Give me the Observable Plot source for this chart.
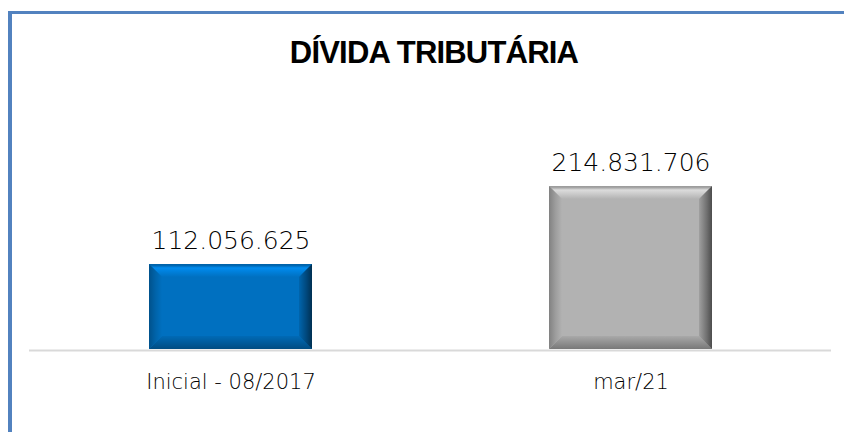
<!DOCTYPE html>
<html>
<head>
<meta charset="utf-8">
<script src="https://cdn.jsdelivr.net/npm/d3@7"></script>
<script src="https://cdn.jsdelivr.net/npm/@observablehq/plot@0.6"></script>
<style>
  html, body { margin: 0; padding: 0; background: #fff; overflow: hidden; }
  #wrap { position: relative; width: 844px; height: 432px; overflow: hidden; }
  #frame { position: absolute; left: 8px; top: 11px; width: 900px; height: 500px;
           border-left: 4px solid #5282bf; border-top: 3px solid #5282bf; box-sizing: border-box; }
  #title { position: absolute; left: 24px; width: 820px; top: 37px; text-align: center;
           font-family: "Liberation Sans", Arial, sans-serif; font-weight: bold; font-size: 31px;
           line-height: 31px; letter-spacing: -0.8px; color: #000; }
  #chart { position: absolute; left: 0; top: 0; }
  #chart text { font-weight: 200; }
</style>
</head>
<body>
<div id="wrap">
  <div id="frame"></div>
  <div id="chart"></div>
  <div id="title">DÍVIDA TRIBUTÁRIA</div>
</div>
<script>
const categories = ["Inicial - 08/2017", "mar/21"];
const values = [112056625, 214831706];
const valueLabels = ["112.056.625", "214.831.706"];
const barColors = ["#0070C0", "#B2B2B2"];

const data = categories.map((c, i) => ({category: c, value: values[i], label: valueLabels[i], color: barColors[i]}));

const chart = Plot.plot({
  width: 844,
  height: 432,
  marginLeft: 29,
  marginRight: 13,
  marginTop: 120,
  marginBottom: 83,
  x: {domain: categories, paddingInner: 0.5935, paddingOuter: 0.2968, label: null, tickSize: 0, tickPadding: 25},
  y: {domain: [0, 302000000], axis: null},
  color: {type: "identity"},
  style: {fontFamily: "DejaVu Sans", fontSize: "21px", background: "transparent", color: "#000"},
  marks: [
    Plot.barY(data, {x: "category", y: "value", fill: "color"}),
    Plot.ruleY([0], {stroke: "#d9d9d9", strokeWidth: 2, dy: 1}),
    Plot.text(data, {x: "category", y: "value", text: "label", dy: -24, fontSize: 25, fill: "#000"})
  ]
});
document.getElementById("chart").appendChild(chart);

// Bevel effect on bars, derived from the rendered bar geometry
const svg = d3.select(chart);
const defs = svg.insert("defs", ":first-child");
const b = 13;
svg.selectAll('g[aria-label="bar"] rect').each(function(_, i) {
  const r = d3.select(this);
  const x = +r.attr("x"), y = +r.attr("y"), w = +r.attr("width"), h = +r.attr("height");
  const base = d3.color(r.attr("fill"));
  const g = d3.select(this.parentNode);
  const grad = (id, x2, y2, stops) => {
    const lg = defs.append("linearGradient").attr("id", id)
      .attr("x1", 0).attr("y1", 0).attr("x2", x2).attr("y2", y2);
    stops.forEach(([o, c]) => lg.append("stop").attr("offset", o).attr("stop-color", c.formatHex()));
  };
  grad(`bt${i}`, 0, 1, [[0, base.darker(0.4)], [0.12, base.darker(0.2)], [0.3, base.brighter(0.6)], [1, base]]);
  grad(`bb${i}`, 0, 1, [[0, base.darker(0.15)], [1, base.darker(1.1)]]);
  grad(`bl${i}`, 1, 0, [[0, base.darker(0.9)], [0.5, base.darker(0.35)], [1, base]]);
  grad(`br${i}`, 1, 0, [[0, base.darker(0.3)], [0.6, base.darker(1.3)], [1, base.darker(2.4)]]);
  const poly = (pts, fill) => g.append("polygon").attr("points", pts.map(p => p.join(",")).join(" ")).attr("fill", fill);
  poly([[x, y], [x + w, y], [x + w - b, y + b], [x + b, y + b]], `url(#bt${i})`);
  poly([[x, y + h], [x + w, y + h], [x + w - b, y + h - b], [x + b, y + h - b]], `url(#bb${i})`);
  poly([[x, y], [x + b, y + b], [x + b, y + h - b], [x, y + h]], `url(#bl${i})`);
  poly([[x + w, y], [x + w - b, y + b], [x + w - b, y + h - b], [x + w, y + h]], `url(#br${i})`);
});
</script>
</body>
</html>
